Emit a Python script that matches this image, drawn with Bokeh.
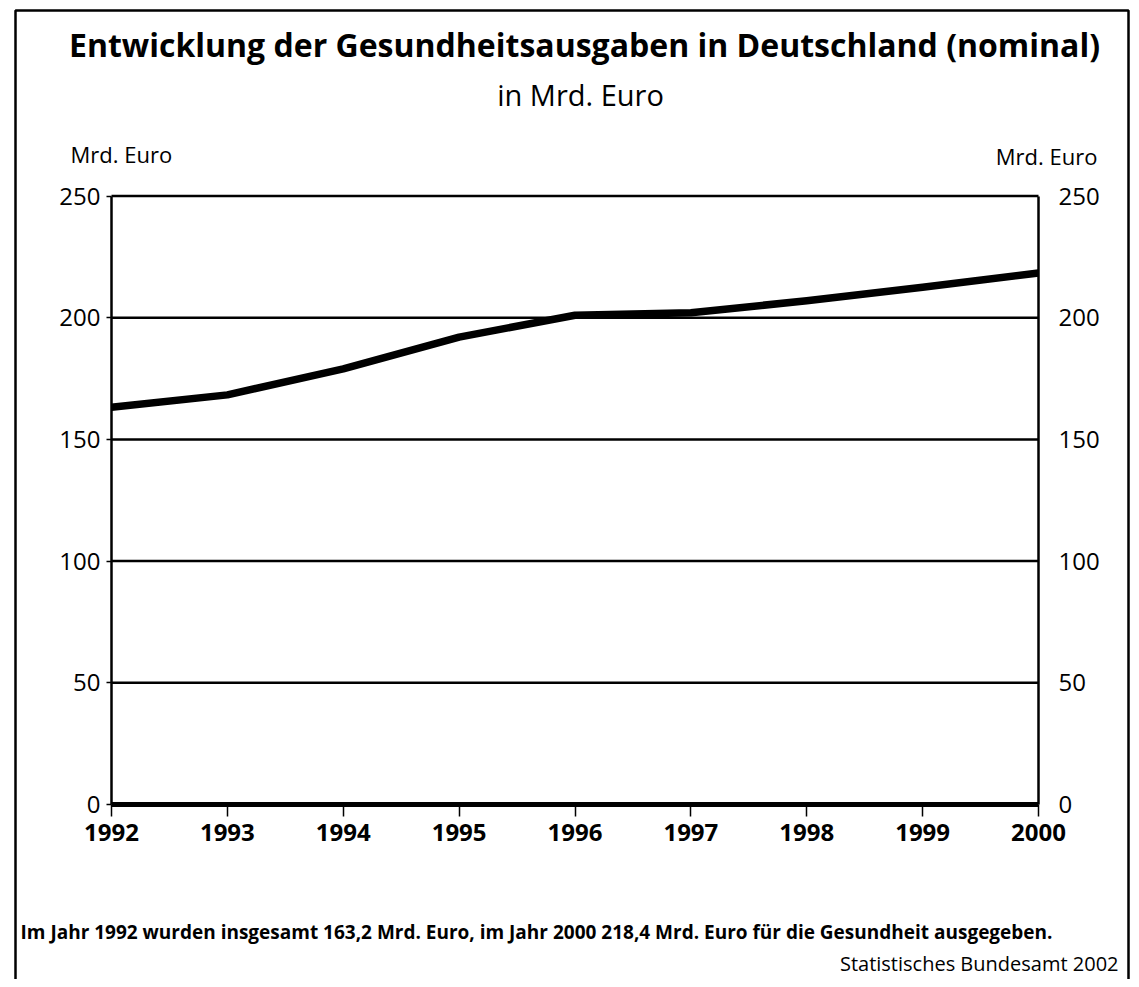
from bokeh.plotting import figure
from bokeh.models import LinearAxis, FixedTicker, Label, BoxAnnotation, Range1d
from bokeh.embed import file_html
from bokeh.resources import INLINE

# ---- data ----
years = [1992, 1993, 1994, 1995, 1996, 1997, 1998, 1999, 2000]
ausgaben = [163.2, 168.3, 179.0, 192.0, 201.0, 202.0, 207.0, 212.5, 218.4]
y_ticks = [0, 50, 100, 150, 200, 250]
x_ticks = years

title_text = "Entwicklung der Gesundheitsausgaben in Deutschland (nominal)"
subtitle_text = "in Mrd. Euro"
unit_text = "Mrd. Euro"
footer_text = ("Im Jahr 1992 wurden insgesamt 163,2 Mrd. Euro, im Jahr 2000 "
               "218,4 Mrd. Euro für die Gesundheit ausgegeben.")
source_text = "Statistisches Bundesamt 2002"

FONT = "Open Sans"

# ---- layout (pixel geometry of the chart area) ----
W, H = 1131, 979
X0_PX, X1_PX = 111.0, 1038.0      # pixel of first / last year
Y0_PX, YT_PX = 804.0, 195.5       # pixel of value 0 / value 250
XMIN, XMAX = years[0], years[-1]
YMIN, YMAX = y_ticks[0], y_ticks[-1]
sx = (XMAX - XMIN) / (X1_PX - X0_PX)
sy = (YMAX - YMIN) / (Y0_PX - YT_PX)


def dx(px):
    return XMIN + (px - X0_PX) * sx


def dy(py):
    return YMIN + (Y0_PX - py) * sy


p = figure(width=W, height=H,
           x_range=Range1d(dx(0), dx(W)), y_range=Range1d(dy(H), dy(0)),
           output_backend="svg", toolbar_location=None,
           min_border=0, min_border_left=0, min_border_right=0,
           min_border_top=0, min_border_bottom=0,
           background_fill_color="white", border_fill_color="white")
p.outline_line_color = None
p.xgrid.visible = False
p.ygrid.visible = False

# bottom axis pinned at value 0
xa = p.xaxis[0]
xa.fixed_location = YMIN
xa.bounds = (XMIN, XMAX)
xa.ticker = FixedTicker(ticks=x_ticks)
xa.axis_line_width = 5
xa.axis_line_color = "black"
xa.major_tick_out = 12
xa.major_tick_in = 0
xa.major_tick_line_width = 1.5
xa.minor_tick_line_color = None
xa.major_label_text_font = FONT
xa.major_label_text_font_style = "bold"
xa.major_label_text_font_size = "24px"
xa.major_label_text_color = "black"
xa.major_label_standoff = 7

# left axis pinned at first year
ya = p.yaxis[0]
ya.fixed_location = XMIN
ya.bounds = (YMIN, YMAX)
ya.ticker = FixedTicker(ticks=y_ticks)
ya.axis_line_width = 2.5
ya.axis_line_color = "black"
ya.major_tick_out = 5
ya.major_tick_in = 0
ya.major_tick_line_width = 1.5
ya.minor_tick_line_color = None
ya.major_label_text_font = FONT
ya.major_label_text_font_size = "24px"
ya.major_label_text_color = "black"
ya.major_label_standoff = 6

# right axis pinned at last year
ra = LinearAxis(ticker=FixedTicker(ticks=y_ticks), fixed_location=XMAX,
                bounds=(YMIN, YMAX))
ra.axis_line_width = 2.5
ra.axis_line_color = "black"
ra.major_tick_out = 0
ra.major_tick_in = 0
ra.minor_tick_line_color = None
ra.major_label_text_font = FONT
ra.major_label_text_font_size = "24px"
ra.major_label_text_color = "black"
ra.major_label_standoff = 20
p.add_layout(ra, "right")

# horizontal grid lines between the two axes
p.segment(x0=[XMIN] * len(y_ticks[1:]), x1=[XMAX] * len(y_ticks[1:]),
          y0=y_ticks[1:], y1=y_ticks[1:], line_color="black", line_width=2.5)

# data line
p.line(years, ausgaben, line_width=7.5, line_color="black", line_join="round")

# texts
p.add_layout(Label(x=dx(584), y=dy(44), text=title_text, text_align="center",
                   text_baseline="middle", text_font=FONT, text_font_size="32px",
                   text_font_style="bold", text_color="black"))
p.add_layout(Label(x=dx(580), y=dy(94), text=subtitle_text, text_align="center",
                   text_baseline="middle", text_font=FONT, text_font_size="29px",
                   text_color="black"))
p.add_layout(Label(x=dx(70), y=dy(153), text=unit_text, text_align="left",
                   text_baseline="middle", text_font=FONT, text_font_size="22px",
                   text_color="black"))
p.add_layout(Label(x=dx(1097), y=dy(155), text=unit_text, text_align="right",
                   text_baseline="middle", text_font=FONT, text_font_size="22px",
                   text_color="black"))
p.add_layout(Label(x=dx(20), y=dy(931), text=footer_text, text_align="left",
                   text_baseline="middle", text_font=FONT, text_font_size="19px",
                   text_font_style="bold", text_color="black"))
p.add_layout(Label(x=dx(1118), y=dy(963), text=source_text, text_align="right",
                   text_baseline="middle", text_font=FONT, text_font_size="20px",
                   text_color="black"))

# outer frame of the page
p.add_layout(BoxAnnotation(left=dx(15), right=dx(1128), top=dy(10), bottom=dy(H + 50),
                           fill_alpha=0, line_color="black", line_alpha=1.0,
                           line_width=2.5))

open("out.html", "w").write(file_html(p, INLINE))
